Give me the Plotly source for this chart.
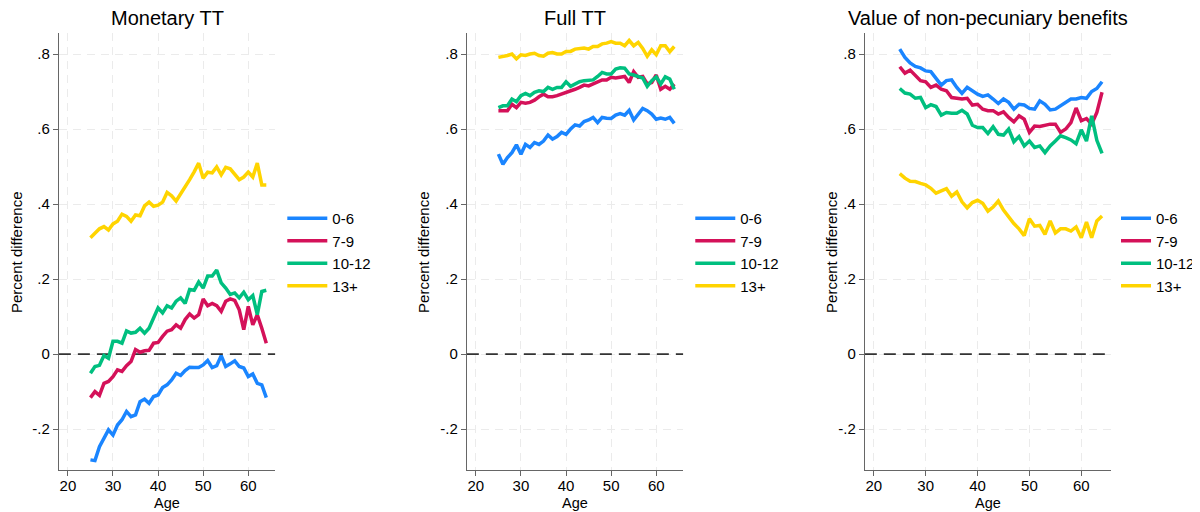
import plotly.graph_objects as go

AGES = list(range(25, 65))
GROUPS = ["0-6", "7-9", "10-12", "13+"]
COLORS = ["#1a85ff", "#d41159", "#00bf7f", "#ffd400"]
PANEL_TITLES = ["Monetary TT", "Full TT", "Value of non-pecuniary benefits"]
Y_TICKS = [-0.2, 0, 0.2, 0.4, 0.6, 0.8]
Y_TICK_LABELS = ["-.2", "0", ".2", ".4", ".6", ".8"]
X_TICKS = [20, 30, 40, 50, 60]
REFERENCE_LEVEL = 0

monetary_0_6 = [-0.282, -0.284, -0.247, -0.224, -0.202, -0.216, -0.189, -0.175, -0.153, -0.167,
                -0.162, -0.127, -0.120, -0.131, -0.113, -0.109, -0.089, -0.082, -0.069, -0.051,
                -0.057, -0.044, -0.035, -0.036, -0.036, -0.029, -0.017, -0.036, -0.031, -0.004,
                -0.033, -0.026, -0.018, -0.033, -0.037, -0.060, -0.053, -0.078, -0.082, -0.116]
monetary_7_9 = [-0.116, -0.100, -0.110, -0.078, -0.073, -0.060, -0.042, -0.046, -0.031, -0.020,
                0.012, 0.005, 0.009, 0.010, 0.029, 0.031, 0.047, 0.061, 0.065, 0.078,
                0.069, 0.092, 0.107, 0.096, 0.105, 0.147, 0.129, 0.135, 0.129, 0.114,
                0.141, 0.147, 0.143, 0.118, 0.065, 0.127, 0.078, 0.105, 0.069, 0.029]
monetary_10_12 = [-0.051, -0.033, -0.030, -0.004, -0.011, 0.034, 0.034, 0.029, 0.062, 0.056,
                  0.058, 0.069, 0.056, 0.069, 0.096, 0.123, 0.110, 0.129, 0.123, 0.141,
                  0.150, 0.135, 0.172, 0.170, 0.192, 0.176, 0.208, 0.208, 0.224, 0.190,
                  0.176, 0.159, 0.163, 0.150, 0.165, 0.145, 0.156, 0.105, 0.167, 0.170]
monetary_13p = [0.310, 0.322, 0.334, 0.340, 0.331, 0.347, 0.354, 0.373, 0.367, 0.354,
                0.371, 0.369, 0.395, 0.405, 0.394, 0.397, 0.405, 0.431, 0.422, 0.408,
                0.426, 0.448, 0.465, 0.486, 0.509, 0.469, 0.485, 0.483, 0.499, 0.478,
                0.498, 0.494, 0.481, 0.465, 0.472, 0.485, 0.472, 0.509, 0.451, 0.451]

full_0_6 = [0.533, 0.506, 0.524, 0.537, 0.558, 0.533, 0.559, 0.551, 0.564, 0.559,
            0.568, 0.584, 0.573, 0.580, 0.591, 0.586, 0.600, 0.611, 0.608, 0.620,
            0.624, 0.631, 0.617, 0.631, 0.629, 0.628, 0.637, 0.641, 0.637, 0.650,
            0.624, 0.640, 0.655, 0.649, 0.640, 0.626, 0.629, 0.626, 0.631, 0.615]
full_7_9 = [0.649, 0.649, 0.649, 0.666, 0.657, 0.671, 0.669, 0.671, 0.677, 0.686,
            0.693, 0.686, 0.686, 0.689, 0.693, 0.698, 0.700, 0.706, 0.711, 0.717,
            0.715, 0.720, 0.727, 0.731, 0.731, 0.738, 0.736, 0.738, 0.740, 0.724,
            0.753, 0.738, 0.740, 0.720, 0.724, 0.744, 0.706, 0.714, 0.706, 0.720]
full_10_12 = [0.657, 0.662, 0.662, 0.680, 0.673, 0.689, 0.695, 0.689, 0.698, 0.702,
              0.700, 0.711, 0.706, 0.711, 0.711, 0.726, 0.714, 0.720, 0.726, 0.729,
              0.731, 0.731, 0.740, 0.751, 0.747, 0.747, 0.760, 0.763, 0.762, 0.747,
              0.744, 0.740, 0.736, 0.714, 0.729, 0.739, 0.720, 0.739, 0.733, 0.706]
full_13p = [0.791, 0.793, 0.796, 0.800, 0.787, 0.798, 0.796, 0.800, 0.802, 0.796,
            0.794, 0.802, 0.804, 0.800, 0.800, 0.807, 0.807, 0.813, 0.815, 0.816,
            0.813, 0.820, 0.820, 0.827, 0.829, 0.833, 0.829, 0.829, 0.822, 0.836,
            0.822, 0.831, 0.815, 0.794, 0.811, 0.798, 0.822, 0.822, 0.806, 0.820]

nonpec_0_6 = [0.813, 0.791, 0.776, 0.767, 0.763, 0.755, 0.753, 0.735, 0.717, 0.729,
              0.731, 0.711, 0.695, 0.711, 0.702, 0.693, 0.687, 0.691, 0.680, 0.668,
              0.680, 0.671, 0.653, 0.666, 0.664, 0.655, 0.653, 0.675, 0.666, 0.651,
              0.653, 0.662, 0.671, 0.680, 0.680, 0.684, 0.682, 0.700, 0.708, 0.726]
nonpec_7_9 = [0.766, 0.749, 0.757, 0.744, 0.729, 0.726, 0.711, 0.717, 0.706, 0.702,
              0.684, 0.682, 0.680, 0.682, 0.664, 0.666, 0.653, 0.649, 0.649, 0.640,
              0.646, 0.631, 0.619, 0.635, 0.626, 0.591, 0.608, 0.607, 0.610, 0.613,
              0.613, 0.591, 0.600, 0.617, 0.656, 0.622, 0.628, 0.613, 0.644, 0.698]
nonpec_10_12 = [0.708, 0.696, 0.693, 0.682, 0.684, 0.657, 0.665, 0.660, 0.637, 0.644,
                0.642, 0.642, 0.650, 0.640, 0.610, 0.604, 0.604, 0.588, 0.606, 0.586,
                0.584, 0.600, 0.566, 0.580, 0.555, 0.568, 0.551, 0.555, 0.537, 0.555,
                0.568, 0.582, 0.577, 0.571, 0.561, 0.598, 0.568, 0.635, 0.570, 0.535]
nonpec_13p = [0.481, 0.469, 0.461, 0.460, 0.455, 0.451, 0.442, 0.429, 0.435, 0.441,
              0.421, 0.432, 0.406, 0.390, 0.404, 0.410, 0.402, 0.381, 0.392, 0.408,
              0.384, 0.366, 0.348, 0.334, 0.316, 0.361, 0.341, 0.343, 0.319, 0.355,
              0.323, 0.334, 0.334, 0.328, 0.339, 0.310, 0.352, 0.310, 0.355, 0.368]

PANELS = [
    [monetary_0_6, monetary_7_9, monetary_10_12, monetary_13p],
    [full_0_6, full_7_9, full_10_12, full_13p],
    [nonpec_0_6, nonpec_7_9, nonpec_10_12, nonpec_13p],
]

# The page body has an 8px margin; the figure is sized to fill the rest of the window.
OFF = 8
W, H = 1200 - OFF, 512 - OFF


def fx(px):
    return (px - OFF) / W


def fy(py):
    return 1 - (py - OFF) / H


FONT = "Liberation Sans, Arial, Helvetica, sans-serif"
# plot-area window-pixel boxes (left, right) and x ranges
X_PX = [(59, 276), (468, 685), (867, 1114)]
X_RANGES = [[18.0, 66.0], [18.0, 66.0], [18.27, 65.77]]
Y_TOP, Y_BOT = 33, 470
Y_RANGE = [-0.309, 0.856]
LEGEND_X = [283, 692, 1119]
LEGEND_ITEMW = [40, 40, 30]
YTITLE_X = [16, 424, 833]

fig = go.Figure()
layout = dict(
    width=W, height=H, margin=dict(l=0, r=0, t=0, b=0),
    paper_bgcolor="white", plot_bgcolor="white",
    font=dict(family=FONT, size=15, color="black"),
    annotations=[],
)

for p, series in enumerate(PANELS):
    xa = "x" if p == 0 else f"x{p+1}"
    ya = "y" if p == 0 else f"y{p+1}"
    lg = "legend" if p == 0 else f"legend{p+1}"
    # dashed reference line at zero, spanning the axis range, drawn beneath the data
    fig.add_trace(go.Scatter(
        x=X_RANGES[p], y=[REFERENCE_LEVEL, REFERENCE_LEVEL], mode="lines",
        line=dict(color="#333333", width=1.6, dash="12px,7px"),
        xaxis=xa, yaxis=ya, showlegend=False, hoverinfo="skip", cliponaxis=False,
    ))
    for g, vals in enumerate(series):
        fig.add_trace(go.Scatter(
            x=AGES, y=vals, mode="lines", name=GROUPS[g],
            line=dict(color=COLORS[g], width=3.5),
            xaxis=xa, yaxis=ya, legend=lg, showlegend=True,
        ))
    l, r = X_PX[p]
    axis_common = dict(
        showline=True, linecolor="#666666", linewidth=1.2,
        ticks="outside", ticklen=5, tickcolor="#666666", tickwidth=1.2,
        showgrid=True, gridcolor="#ebebeb", gridwidth=1, griddash="8px,6px",
        zeroline=False, tickfont=dict(size=15, color="black", family=FONT),
        fixedrange=True,
    )
    layout["xaxis" if p == 0 else f"xaxis{p+1}"] = dict(
        axis_common, domain=[fx(l), fx(r)], range=X_RANGES[p],
        tickvals=X_TICKS, anchor=ya, ticklabelstandoff=-3,
    )
    layout["yaxis" if p == 0 else f"yaxis{p+1}"] = dict(
        axis_common, domain=[fy(Y_BOT), fy(Y_TOP)], range=Y_RANGE,
        tickvals=Y_TICKS, ticktext=Y_TICK_LABELS, anchor=xa,
    )
    layout[lg] = dict(
        x=fx(LEGEND_X[p]), xanchor="left",
        y=fy(202), yanchor="top",
        bgcolor="rgba(0,0,0,0)", borderwidth=0,
        font=dict(size=15, family=FONT, color="black"),
        tracegroupgap=0, itemwidth=LEGEND_ITEMW[p],
    )
    cx = fx((l + r) / 2)
    layout["annotations"].append(dict(
        text=PANEL_TITLES[p], x=cx, y=fy(18), xref="paper", yref="paper",
        xanchor="center", yanchor="middle", showarrow=False,
        font=dict(size=20, family=FONT, color="black"),
    ))
    layout["annotations"].append(dict(
        text="Age", x=cx, y=0, xref="paper", yref="paper",
        xanchor="center", yanchor="bottom", showarrow=False, borderpad=0,
        font=dict(size=14.5, family=FONT, color="black"),
    ))
    layout["annotations"].append(dict(
        text="Percent difference", x=fx(YTITLE_X[p]), y=fy(252),
        xref="paper", yref="paper", xanchor="center", yanchor="middle",
        textangle=-90, showarrow=False,
        font=dict(size=15, family=FONT, color="black"),
    ))

fig.update_layout(**layout)
fig.write_html("out.html")
